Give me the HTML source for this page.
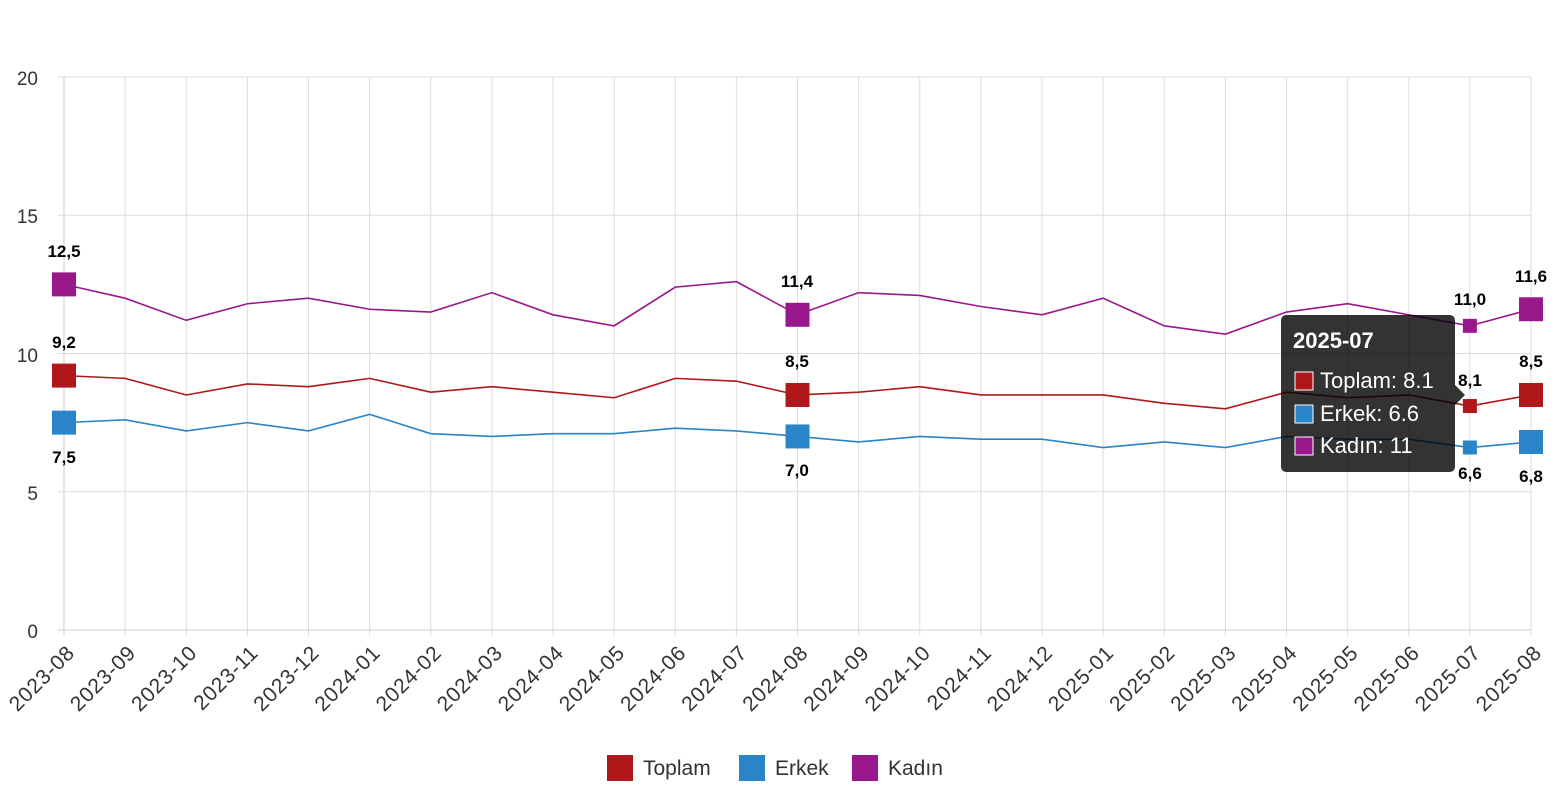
<!DOCTYPE html>
<html><head><meta charset="utf-8"><style>
html,body{margin:0;padding:0;background:#fff;}
svg{display:block;font-family:"Liberation Sans",sans-serif;}
.xl{font-size:21px;fill:#333;text-anchor:end;letter-spacing:0.8px;}
.yl{font-size:19px;fill:#333;text-anchor:end;}
.dl{font-size:17px;font-weight:bold;fill:#000;text-anchor:middle;}
</style></head><body>
<svg id="s" width="1556" height="800" viewBox="0 0 1556 800">
<g id="grid" stroke="#ddd" stroke-width="1"></g>
<line x1="64" y1="77" x2="64" y2="636" stroke="#ccc"/>
<line x1="58" y1="630" x2="1531" y2="630" stroke="#ccc"/>
<text class="yl" x="38" y="85">20</text>
<text class="yl" x="38" y="223">15</text>
<text class="yl" x="38" y="362">10</text>
<text class="yl" x="38" y="500">5</text>
<text class="yl" x="38" y="638">0</text>
<g id="lines"></g>
<g id="xlab"></g>
<g>
<text class="xl" transform="translate(76,654) rotate(-45)">2023-08</text>
<text class="xl" transform="translate(137.1,654) rotate(-45)">2023-09</text>
<text class="xl" transform="translate(198.3,654) rotate(-45)">2023-10</text>
<text class="xl" transform="translate(259.4,654) rotate(-45)">2023-11</text>
<text class="xl" transform="translate(320.5,654) rotate(-45)">2023-12</text>
<text class="xl" transform="translate(381.6,654) rotate(-45)">2024-01</text>
<text class="xl" transform="translate(442.8,654) rotate(-45)">2024-02</text>
<text class="xl" transform="translate(503.9,654) rotate(-45)">2024-03</text>
<text class="xl" transform="translate(565,654) rotate(-45)">2024-04</text>
<text class="xl" transform="translate(626.1,654) rotate(-45)">2024-05</text>
<text class="xl" transform="translate(687.3,654) rotate(-45)">2024-06</text>
<text class="xl" transform="translate(748.4,654) rotate(-45)">2024-07</text>
<text class="xl" transform="translate(809.5,654) rotate(-45)">2024-08</text>
<text class="xl" transform="translate(870.6,654) rotate(-45)">2024-09</text>
<text class="xl" transform="translate(931.8,654) rotate(-45)">2024-10</text>
<text class="xl" transform="translate(992.9,654) rotate(-45)">2024-11</text>
<text class="xl" transform="translate(1054,654) rotate(-45)">2024-12</text>
<text class="xl" transform="translate(1115.1,654) rotate(-45)">2025-01</text>
<text class="xl" transform="translate(1176.3,654) rotate(-45)">2025-02</text>
<text class="xl" transform="translate(1237.4,654) rotate(-45)">2025-03</text>
<text class="xl" transform="translate(1298.5,654) rotate(-45)">2025-04</text>
<text class="xl" transform="translate(1359.6,654) rotate(-45)">2025-05</text>
<text class="xl" transform="translate(1420.8,654) rotate(-45)">2025-06</text>
<text class="xl" transform="translate(1481.9,654) rotate(-45)">2025-07</text>
<text class="xl" transform="translate(1543,654) rotate(-45)">2025-08</text>
</g>
<g>
<text class="dl" x="64" y="257">12,5</text>
<text class="dl" x="64" y="348">9,2</text>
<text class="dl" x="64" y="463">7,5</text>
<text class="dl" x="797" y="287">11,4</text>
<text class="dl" x="797" y="367">8,5</text>
<text class="dl" x="797" y="476">7,0</text>
<text class="dl" x="1470" y="305">11,0</text>
<text class="dl" x="1470" y="386">8,1</text>
<text class="dl" x="1470" y="479">6,6</text>
<text class="dl" x="1531" y="282">11,6</text>
<text class="dl" x="1531" y="367">8,5</text>
<text class="dl" x="1531" y="482">6,8</text>
</g>
<g id="tt">
<path d="M1287,315 H1449 Q1455,315 1455,321 V385 L1465,395 L1455,405 V466 Q1455,472 1449,472 H1287 Q1281,472 1281,466 V321 Q1281,315 1287,315 Z" fill="rgba(0,0,0,0.8)"/>
<text x="1293" y="348" fill="#fff" font-size="22" font-weight="bold">2025-07</text>
<rect x="1295" y="372" width="18" height="18" fill="#b0171a" stroke="#fff" stroke-width="1"/>
<text x="1320" y="388" fill="#fff" font-size="22">Toplam: 8.1</text>
<rect x="1295" y="405" width="18" height="18" fill="#2a84c8" stroke="#fff" stroke-width="1"/>
<text x="1320" y="421" fill="#fff" font-size="22">Erkek: 6.6</text>
<rect x="1295" y="437" width="18" height="18" fill="#98188c" stroke="#fff" stroke-width="1"/>
<text x="1320" y="453" fill="#fff" font-size="22">Kadın: 11</text>
</g>
<g font-size="21" fill="#333">
<rect x="607" y="755" width="26" height="26" fill="#b0171a"/>
<text x="643" y="775">Toplam</text>
<rect x="739" y="755" width="26" height="26" fill="#2a84c8"/>
<text x="775" y="775">Erkek</text>
<rect x="852" y="755" width="26" height="26" fill="#98188c"/>
<text x="888" y="775">Kadın</text>
</g>
</svg>
<script>
var ns="http://www.w3.org/2000/svg";
function X(i){return 64+i*61.125;}
function Y(v){return 630-v*27.65;}
var g=document.getElementById("grid");
for(var i=0;i<25;i++){var l=document.createElementNS(ns,"line");l.setAttribute("x1",X(i));l.setAttribute("x2",X(i));l.setAttribute("y1",77);l.setAttribute("y2",636);g.appendChild(l);}
[20,15,10,5].forEach(function(v){var l=document.createElementNS(ns,"line");l.setAttribute("x1",58);l.setAttribute("x2",1531);l.setAttribute("y1",Y(v));l.setAttribute("y2",Y(v));g.appendChild(l);});
var K=[12.5,12.0,11.2,11.8,12.0,11.6,11.5,12.2,11.4,11.0,12.4,12.6,11.4,12.2,12.1,11.7,11.4,12.0,11.0,10.7,11.5,11.8,11.4,11.0,11.6];
var T=[9.2,9.1,8.5,8.9,8.8,9.1,8.6,8.8,8.6,8.4,9.1,9.0,8.5,8.6,8.8,8.5,8.5,8.5,8.2,8.0,8.6,8.4,8.5,8.1,8.5];
var E=[7.5,7.6,7.2,7.5,7.2,7.8,7.1,7.0,7.1,7.1,7.3,7.2,7.0,6.8,7.0,6.9,6.9,6.6,6.8,6.6,7.0,6.9,6.9,6.6,6.8];
var L=document.getElementById("lines");
function draw(d,c){var p=d.map(function(v,i){return X(i)+","+Y(v);}).join(" ");
var pl=document.createElementNS(ns,"polyline");pl.setAttribute("points",p);pl.setAttribute("fill","none");pl.setAttribute("stroke",c);pl.setAttribute("stroke-width","1.6");L.appendChild(pl);
[0,12,24].forEach(function(i){var r=document.createElementNS(ns,"rect");r.setAttribute("x",X(i)-12);r.setAttribute("y",Y(d[i])-12);r.setAttribute("width",24);r.setAttribute("height",24);r.setAttribute("fill",c);L.appendChild(r);});
var r=document.createElementNS(ns,"rect");r.setAttribute("x",X(23)-7);r.setAttribute("y",Y(d[23])-7);r.setAttribute("width",14);r.setAttribute("height",14);r.setAttribute("fill",c);L.appendChild(r);}
draw(K,"#98188c");draw(T,"#b0171a");draw(E,"#2a84c8");
var s=document.getElementById("s");s.appendChild(document.getElementById("tt"));
</script>
</body></html>
